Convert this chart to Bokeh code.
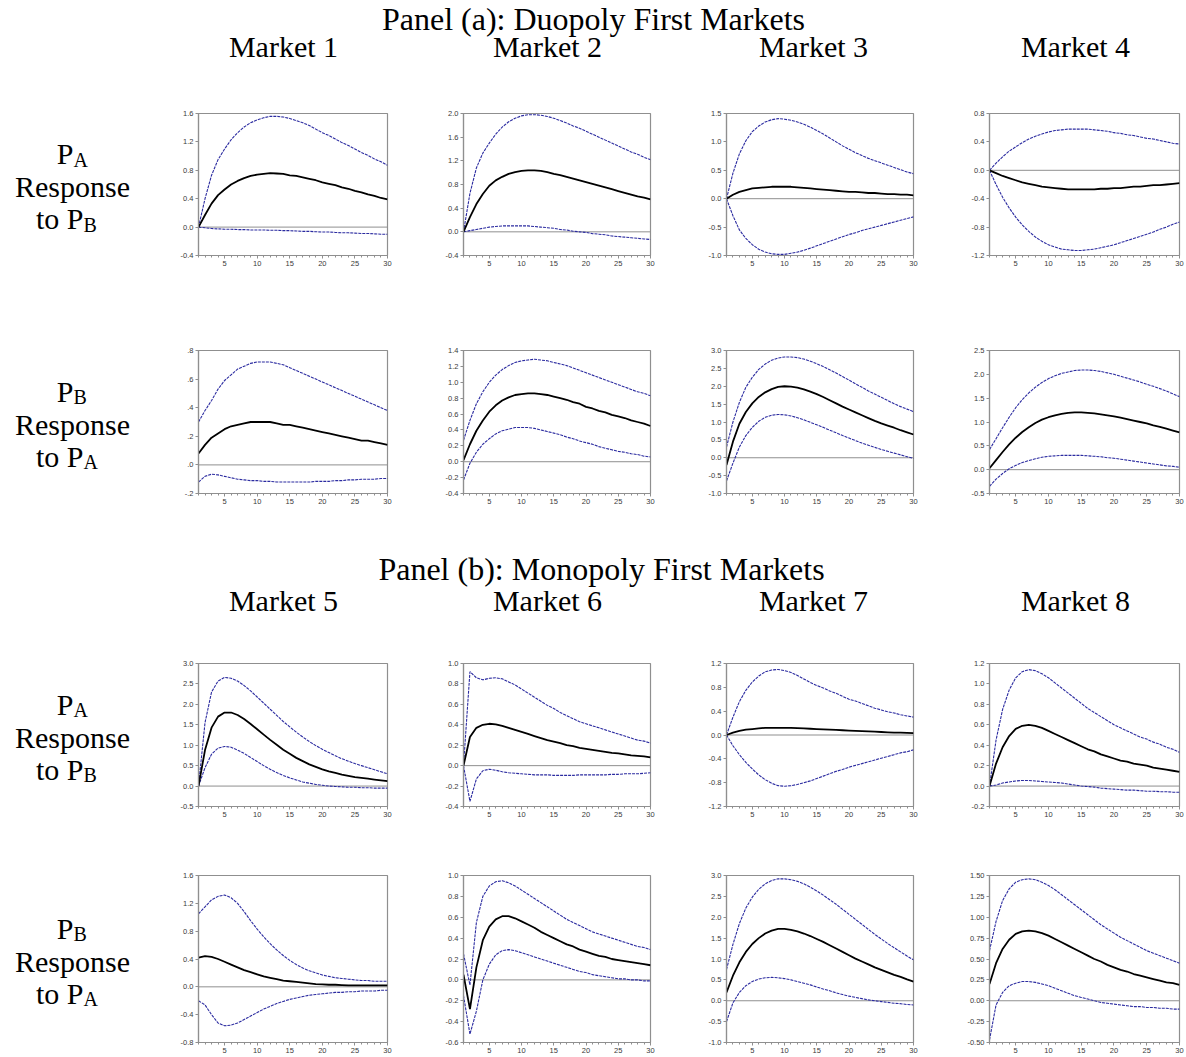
from bokeh.plotting import figure
from bokeh.layouts import column, row
from bokeh.models import Range1d, FixedTicker, CustomJSTickFormatter, Span, ColumnDataSource
from bokeh.core.properties import value
from bokeh.embed import file_html
from bokeh.resources import INLINE

# ---------------- data ----------------
periods = list(range(1, 31))
x_tick_labels = ["5", "10", "15", "20", "25", "30"]

panel_titles = ["Panel (a): Duopoly First Markets", "Panel (b): Monopoly First Markets"]
market_names_a = ["Market 1", "Market 2", "Market 3", "Market 4"]
market_names_b = ["Market 5", "Market 6", "Market 7", "Market 8"]

# Market 1
m1_pa_mid = [0, 0.17, 0.33, 0.45, 0.53, 0.60, 0.65, 0.69, 0.72, 0.74, 0.75, 0.76, 0.755, 0.75, 0.73, 0.72, 0.70, 0.68, 0.66, 0.63, 0.61, 0.59, 0.56, 0.54, 0.51, 0.49, 0.46, 0.44, 0.41, 0.39]
m1_pa_up = [0, 0.40, 0.73, 0.95, 1.10, 1.23, 1.33, 1.41, 1.47, 1.51, 1.54, 1.56, 1.56, 1.55, 1.53, 1.50, 1.47, 1.43, 1.38, 1.33, 1.29, 1.24, 1.19, 1.15, 1.10, 1.05, 1.01, 0.96, 0.92, 0.87]
m1_pa_lo = [0, -0.01, -0.02, -0.025, -0.03, -0.03, -0.035, -0.035, -0.04, -0.04, -0.04, -0.045, -0.045, -0.05, -0.05, -0.055, -0.06, -0.06, -0.065, -0.07, -0.07, -0.075, -0.08, -0.08, -0.085, -0.09, -0.09, -0.095, -0.10, -0.10]
m1_pa_yticks = ["-0.4", "0.0", "0.4", "0.8", "1.2", "1.6"]

m1_pb_mid = [0.08, 0.14, 0.19, 0.22, 0.25, 0.27, 0.28, 0.29, 0.30, 0.30, 0.30, 0.30, 0.29, 0.28, 0.28, 0.27, 0.26, 0.25, 0.24, 0.23, 0.22, 0.21, 0.20, 0.19, 0.18, 0.17, 0.17, 0.16, 0.15, 0.14]
m1_pb_up = [0.30, 0.38, 0.45, 0.53, 0.59, 0.63, 0.67, 0.69, 0.71, 0.72, 0.72, 0.72, 0.71, 0.70, 0.68, 0.66, 0.64, 0.62, 0.60, 0.58, 0.56, 0.54, 0.52, 0.50, 0.48, 0.46, 0.44, 0.42, 0.40, 0.38]
m1_pb_lo = [-0.12, -0.08, -0.065, -0.07, -0.08, -0.09, -0.10, -0.105, -0.11, -0.11, -0.115, -0.115, -0.12, -0.12, -0.12, -0.12, -0.12, -0.12, -0.115, -0.115, -0.115, -0.11, -0.11, -0.105, -0.105, -0.10, -0.10, -0.10, -0.095, -0.095]
m1_pb_yticks = ["-.2", ".0", ".2", ".4", ".6", ".8"]

# Market 2
m2_pa_mid = [0, 0.25, 0.47, 0.64, 0.78, 0.87, 0.93, 0.98, 1.01, 1.03, 1.04, 1.04, 1.03, 1.01, 0.98, 0.96, 0.93, 0.90, 0.87, 0.84, 0.81, 0.78, 0.75, 0.72, 0.69, 0.66, 0.63, 0.60, 0.58, 0.55]
m2_pa_up = [0, 0.65, 1.08, 1.33, 1.50, 1.65, 1.77, 1.86, 1.92, 1.96, 1.98, 1.98, 1.97, 1.95, 1.92, 1.88, 1.84, 1.79, 1.75, 1.70, 1.65, 1.60, 1.55, 1.50, 1.45, 1.40, 1.35, 1.31, 1.26, 1.22]
m2_pa_lo = [0, 0.02, 0.04, 0.06, 0.08, 0.09, 0.10, 0.10, 0.10, 0.10, 0.10, 0.09, 0.08, 0.07, 0.06, 0.04, 0.03, 0.01, 0.00, -0.01, -0.03, -0.04, -0.05, -0.07, -0.08, -0.09, -0.10, -0.11, -0.12, -0.13]
m2_pa_yticks = ["-0.4", "0.0", "0.4", "0.8", "1.2", "1.6", "2.0"]

m2_pb_mid = [0.02, 0.22, 0.39, 0.52, 0.63, 0.71, 0.77, 0.81, 0.84, 0.85, 0.86, 0.86, 0.85, 0.84, 0.82, 0.80, 0.78, 0.75, 0.73, 0.69, 0.67, 0.64, 0.62, 0.59, 0.57, 0.55, 0.52, 0.50, 0.48, 0.45]
m2_pb_up = [0.27, 0.52, 0.73, 0.88, 1.00, 1.09, 1.16, 1.21, 1.25, 1.27, 1.28, 1.29, 1.28, 1.27, 1.25, 1.23, 1.21, 1.18, 1.15, 1.12, 1.09, 1.06, 1.03, 1.00, 0.97, 0.94, 0.91, 0.88, 0.86, 0.83]
m2_pb_lo = [-0.23, -0.02, 0.12, 0.22, 0.29, 0.35, 0.39, 0.41, 0.43, 0.43, 0.43, 0.42, 0.40, 0.38, 0.36, 0.34, 0.31, 0.29, 0.26, 0.24, 0.22, 0.19, 0.17, 0.15, 0.13, 0.12, 0.10, 0.09, 0.07, 0.06]
m2_pb_yticks = ["-0.4", "-0.2", "0.0", "0.2", "0.4", "0.6", "0.8", "1.0", "1.2", "1.4"]

# Market 3
m3_pa_mid = [0, 0.07, 0.12, 0.15, 0.18, 0.19, 0.20, 0.21, 0.21, 0.21, 0.21, 0.20, 0.19, 0.18, 0.17, 0.16, 0.15, 0.14, 0.13, 0.12, 0.12, 0.11, 0.10, 0.10, 0.09, 0.08, 0.08, 0.07, 0.07, 0.06]
m3_pa_up = [0, 0.45, 0.79, 1.02, 1.18, 1.28, 1.35, 1.39, 1.41, 1.40, 1.38, 1.35, 1.31, 1.26, 1.20, 1.14, 1.07, 1.00, 0.93, 0.87, 0.81, 0.76, 0.71, 0.67, 0.63, 0.59, 0.55, 0.51, 0.47, 0.44]
m3_pa_lo = [0, -0.30, -0.55, -0.70, -0.81, -0.89, -0.94, -0.97, -0.98, -0.98, -0.96, -0.94, -0.91, -0.87, -0.83, -0.79, -0.75, -0.71, -0.67, -0.63, -0.60, -0.56, -0.53, -0.50, -0.47, -0.44, -0.41, -0.38, -0.35, -0.32]
m3_pa_yticks = ["-1.0", "-0.5", "0.0", "0.5", "1.0", "1.5"]

m3_pb_mid = [-0.20, 0.45, 0.95, 1.28, 1.52, 1.70, 1.83, 1.92, 1.98, 2.00, 1.99, 1.96, 1.91, 1.85, 1.78, 1.70, 1.61, 1.52, 1.43, 1.35, 1.27, 1.19, 1.11, 1.03, 0.96, 0.90, 0.84, 0.77, 0.71, 0.65]
m3_pb_up = [0.30, 1.00, 1.55, 1.97, 2.25, 2.47, 2.62, 2.73, 2.79, 2.82, 2.82, 2.80, 2.76, 2.70, 2.63, 2.55, 2.46, 2.37, 2.27, 2.17, 2.07, 1.97, 1.87, 1.78, 1.69, 1.60, 1.51, 1.43, 1.36, 1.29]
m3_pb_lo = [-0.65, -0.15, 0.30, 0.62, 0.85, 1.02, 1.13, 1.19, 1.21, 1.20, 1.17, 1.12, 1.06, 0.99, 0.92, 0.85, 0.77, 0.70, 0.62, 0.55, 0.48, 0.41, 0.35, 0.29, 0.23, 0.18, 0.13, 0.08, 0.03, -0.02]
m3_pb_yticks = ["-1.0", "-0.5", "0.0", "0.5", "1.0", "1.5", "2.0", "2.5", "3.0"]

# Market 4
m4_pa_mid = [0, -0.04, -0.08, -0.11, -0.14, -0.17, -0.19, -0.21, -0.23, -0.24, -0.25, -0.26, -0.27, -0.27, -0.27, -0.27, -0.27, -0.26, -0.26, -0.25, -0.25, -0.24, -0.23, -0.23, -0.22, -0.21, -0.21, -0.20, -0.19, -0.18]
m4_pa_up = [0, 0.10, 0.19, 0.27, 0.33, 0.39, 0.44, 0.48, 0.51, 0.54, 0.56, 0.57, 0.58, 0.58, 0.58, 0.58, 0.57, 0.56, 0.55, 0.53, 0.52, 0.50, 0.49, 0.47, 0.45, 0.44, 0.42, 0.40, 0.38, 0.37]
m4_pa_lo = [0, -0.20, -0.38, -0.53, -0.66, -0.77, -0.86, -0.94, -1.00, -1.05, -1.08, -1.11, -1.12, -1.13, -1.13, -1.12, -1.11, -1.09, -1.07, -1.05, -1.02, -0.99, -0.96, -0.93, -0.90, -0.87, -0.83, -0.80, -0.76, -0.73]
m4_pa_yticks = ["-1.2", "-0.8", "-0.4", "0.0", "0.4", "0.8"]

m4_pb_mid = [0.03, 0.20, 0.37, 0.53, 0.67, 0.79, 0.89, 0.98, 1.05, 1.10, 1.14, 1.17, 1.19, 1.20, 1.20, 1.19, 1.18, 1.16, 1.14, 1.12, 1.09, 1.06, 1.03, 1.00, 0.97, 0.93, 0.90, 0.86, 0.82, 0.78]
m4_pb_up = [0.42, 0.65, 0.88, 1.10, 1.30, 1.47, 1.61, 1.73, 1.83, 1.91, 1.97, 2.02, 2.05, 2.08, 2.09, 2.09, 2.08, 2.06, 2.03, 2.00, 1.96, 1.92, 1.88, 1.84, 1.79, 1.75, 1.70, 1.65, 1.59, 1.53]
m4_pb_lo = [-0.35, -0.20, -0.08, 0.02, 0.09, 0.15, 0.19, 0.23, 0.26, 0.28, 0.29, 0.30, 0.30, 0.30, 0.30, 0.29, 0.28, 0.27, 0.25, 0.24, 0.22, 0.20, 0.18, 0.16, 0.14, 0.12, 0.10, 0.08, 0.07, 0.05]
m4_pb_yticks = ["-0.5", "0.0", "0.5", "1.0", "1.5", "2.0", "2.5"]

# Market 5
m5_pa_mid = [0, 0.88, 1.43, 1.70, 1.80, 1.80, 1.74, 1.64, 1.52, 1.39, 1.26, 1.13, 1.01, 0.89, 0.79, 0.69, 0.61, 0.53, 0.47, 0.41, 0.36, 0.32, 0.28, 0.25, 0.22, 0.20, 0.18, 0.16, 0.14, 0.12]
m5_pa_up = [0, 1.55, 2.30, 2.57, 2.66, 2.64, 2.57, 2.46, 2.33, 2.18, 2.03, 1.88, 1.73, 1.58, 1.45, 1.32, 1.20, 1.09, 0.99, 0.90, 0.82, 0.74, 0.67, 0.61, 0.55, 0.50, 0.45, 0.40, 0.35, 0.30]
m5_pa_lo = [0, 0.45, 0.78, 0.93, 0.97, 0.95, 0.88, 0.80, 0.70, 0.60, 0.50, 0.41, 0.33, 0.26, 0.20, 0.15, 0.10, 0.07, 0.04, 0.02, 0.00, -0.01, -0.02, -0.03, -0.03, -0.04, -0.04, -0.05, -0.05, -0.05]
m5_pa_yticks = ["-0.5", "0.0", "0.5", "1.0", "1.5", "2.0", "2.5", "3.0"]

m5_pb_mid = [0.42, 0.44, 0.43, 0.40, 0.36, 0.32, 0.28, 0.24, 0.21, 0.18, 0.15, 0.13, 0.11, 0.09, 0.08, 0.07, 0.06, 0.05, 0.04, 0.035, 0.03, 0.03, 0.025, 0.02, 0.02, 0.02, 0.02, 0.02, 0.02, 0.02]
m5_pb_up = [1.05, 1.15, 1.25, 1.30, 1.32, 1.28, 1.20, 1.08, 0.95, 0.83, 0.72, 0.62, 0.53, 0.45, 0.38, 0.32, 0.27, 0.23, 0.20, 0.17, 0.15, 0.13, 0.12, 0.11, 0.10, 0.09, 0.09, 0.08, 0.08, 0.08]
m5_pb_lo = [-0.20, -0.26, -0.40, -0.52, -0.56, -0.55, -0.52, -0.47, -0.42, -0.37, -0.32, -0.28, -0.24, -0.21, -0.18, -0.16, -0.14, -0.12, -0.11, -0.10, -0.09, -0.08, -0.08, -0.07, -0.07, -0.06, -0.06, -0.06, -0.05, -0.05]
m5_pb_yticks = ["-0.8", "-0.4", "0.0", "0.4", "0.8", "1.2", "1.6"]

# Market 6
m6_pa_mid = [0, 0.28, 0.37, 0.40, 0.41, 0.405, 0.39, 0.37, 0.35, 0.33, 0.31, 0.29, 0.27, 0.25, 0.235, 0.22, 0.20, 0.19, 0.175, 0.165, 0.155, 0.145, 0.135, 0.125, 0.12, 0.11, 0.10, 0.095, 0.09, 0.08]
m6_pa_up = [0, 0.92, 0.86, 0.84, 0.855, 0.86, 0.85, 0.82, 0.79, 0.75, 0.71, 0.67, 0.63, 0.59, 0.56, 0.52, 0.49, 0.46, 0.43, 0.41, 0.39, 0.37, 0.35, 0.33, 0.31, 0.29, 0.27, 0.25, 0.24, 0.22]
m6_pa_lo = [0, -0.35, -0.13, -0.05, -0.035, -0.045, -0.06, -0.07, -0.075, -0.08, -0.085, -0.09, -0.09, -0.09, -0.095, -0.095, -0.095, -0.095, -0.09, -0.09, -0.09, -0.09, -0.09, -0.085, -0.085, -0.08, -0.08, -0.08, -0.075, -0.07]
m6_pa_yticks = ["-0.4", "-0.2", "0.0", "0.2", "0.4", "0.6", "0.8", "1.0"]

m6_pb_mid = [0.05, -0.28, 0.12, 0.38, 0.51, 0.58, 0.61, 0.61, 0.59, 0.56, 0.53, 0.50, 0.46, 0.43, 0.40, 0.37, 0.34, 0.32, 0.29, 0.27, 0.25, 0.23, 0.22, 0.20, 0.19, 0.18, 0.17, 0.16, 0.15, 0.14]
m6_pb_up = [0.25, -0.05, 0.55, 0.80, 0.90, 0.94, 0.95, 0.93, 0.90, 0.86, 0.82, 0.78, 0.74, 0.70, 0.66, 0.62, 0.58, 0.55, 0.52, 0.49, 0.46, 0.44, 0.42, 0.40, 0.38, 0.36, 0.34, 0.32, 0.31, 0.29]
m6_pb_lo = [-0.15, -0.52, -0.30, 0.00, 0.15, 0.24, 0.28, 0.29, 0.28, 0.26, 0.24, 0.22, 0.20, 0.18, 0.16, 0.14, 0.12, 0.10, 0.08, 0.07, 0.05, 0.04, 0.03, 0.02, 0.01, 0.01, 0.00, 0.00, -0.01, -0.01]
m6_pb_yticks = ["-0.6", "-0.4", "-0.2", "0.0", "0.2", "0.4", "0.6", "0.8", "1.0"]

# Market 7
m7_pa_mid = [0, 0.04, 0.07, 0.09, 0.10, 0.11, 0.12, 0.12, 0.12, 0.12, 0.12, 0.115, 0.11, 0.105, 0.10, 0.095, 0.09, 0.085, 0.08, 0.075, 0.07, 0.065, 0.06, 0.055, 0.05, 0.045, 0.04, 0.04, 0.035, 0.03]
m7_pa_up = [0, 0.30, 0.56, 0.75, 0.89, 0.99, 1.06, 1.09, 1.10, 1.08, 1.05, 1.00, 0.94, 0.88, 0.83, 0.79, 0.74, 0.70, 0.65, 0.60, 0.57, 0.53, 0.49, 0.45, 0.42, 0.39, 0.37, 0.34, 0.32, 0.30]
m7_pa_lo = [0, -0.18, -0.33, -0.46, -0.57, -0.67, -0.75, -0.81, -0.85, -0.86, -0.85, -0.83, -0.80, -0.77, -0.73, -0.69, -0.65, -0.61, -0.58, -0.54, -0.51, -0.48, -0.45, -0.42, -0.39, -0.36, -0.33, -0.30, -0.28, -0.25]
m7_pa_yticks = ["-1.2", "-0.8", "-0.4", "0.0", "0.4", "0.8", "1.2"]

m7_pb_mid = [0.20, 0.60, 0.92, 1.17, 1.36, 1.50, 1.61, 1.68, 1.72, 1.72, 1.70, 1.66, 1.61, 1.55, 1.48, 1.41, 1.33, 1.25, 1.17, 1.09, 1.01, 0.94, 0.87, 0.80, 0.74, 0.68, 0.62, 0.57, 0.51, 0.46]
m7_pb_up = [0.75, 1.35, 1.85, 2.22, 2.48, 2.67, 2.80, 2.88, 2.92, 2.92, 2.90, 2.86, 2.80, 2.72, 2.63, 2.53, 2.42, 2.31, 2.19, 2.07, 1.95, 1.83, 1.71, 1.59, 1.48, 1.37, 1.27, 1.17, 1.07, 0.98]
m7_pb_lo = [-0.50, -0.05, 0.20, 0.36, 0.46, 0.52, 0.55, 0.56, 0.55, 0.53, 0.50, 0.46, 0.42, 0.38, 0.33, 0.28, 0.24, 0.19, 0.15, 0.11, 0.08, 0.05, 0.02, 0.00, -0.02, -0.04, -0.06, -0.07, -0.09, -0.10]
m7_pb_yticks = ["-1.0", "-0.5", "0.0", "0.5", "1.0", "1.5", "2.0", "2.5", "3.0"]

# Market 8
m8_pa_mid = [0, 0.22, 0.38, 0.49, 0.56, 0.59, 0.60, 0.59, 0.57, 0.54, 0.51, 0.48, 0.45, 0.42, 0.39, 0.36, 0.34, 0.31, 0.29, 0.27, 0.25, 0.24, 0.22, 0.21, 0.20, 0.18, 0.17, 0.16, 0.15, 0.14]
m8_pa_up = [0, 0.45, 0.75, 0.94, 1.06, 1.12, 1.14, 1.13, 1.10, 1.06, 1.01, 0.96, 0.91, 0.86, 0.81, 0.76, 0.72, 0.68, 0.64, 0.60, 0.57, 0.54, 0.51, 0.48, 0.46, 0.43, 0.41, 0.38, 0.36, 0.33]
m8_pa_lo = [0, 0.01, 0.03, 0.04, 0.05, 0.055, 0.055, 0.05, 0.045, 0.04, 0.035, 0.03, 0.02, 0.01, 0.00, -0.005, -0.01, -0.02, -0.025, -0.03, -0.035, -0.04, -0.04, -0.045, -0.05, -0.05, -0.055, -0.055, -0.06, -0.06]
m8_pa_yticks = ["-0.2", "0.0", "0.2", "0.4", "0.6", "0.8", "1.0", "1.2"]

m8_pb_mid = [0.20, 0.45, 0.62, 0.73, 0.80, 0.83, 0.84, 0.83, 0.81, 0.78, 0.74, 0.70, 0.66, 0.62, 0.58, 0.54, 0.50, 0.47, 0.43, 0.40, 0.37, 0.35, 0.32, 0.30, 0.28, 0.26, 0.24, 0.22, 0.21, 0.19]
m8_pb_up = [0.60, 0.95, 1.20, 1.34, 1.42, 1.45, 1.46, 1.45, 1.42, 1.38, 1.33, 1.27, 1.21, 1.15, 1.09, 1.03, 0.97, 0.91, 0.86, 0.81, 0.76, 0.72, 0.68, 0.64, 0.60, 0.57, 0.54, 0.51, 0.48, 0.45]
m8_pb_lo = [-0.47, -0.05, 0.10, 0.18, 0.21, 0.23, 0.23, 0.22, 0.20, 0.18, 0.15, 0.12, 0.09, 0.06, 0.04, 0.02, 0.00, -0.02, -0.03, -0.04, -0.05, -0.06, -0.07, -0.07, -0.08, -0.08, -0.09, -0.09, -0.10, -0.10]
m8_pb_yticks = ["-0.50", "-0.25", "0.00", "0.25", "0.50", "0.75", "1.00", "1.25", "1.50"]

# ---------------- styling / layout ----------------
SERIF = "Liberation Serif"
SANS = "Liberation Sans"
GRAY = "#8f8f8f"
BLUE = "#2b2ba0"

LABEL_W = 160
COL_W = [260, 270, 260, 234]
COL_BL = [38, 43, 36, 39]
COL_BR = [33, 40, 37, 5]
ROW_H = [220, 230, 210, 217]
ROW_BT = [33, 50, 33, 35]
ROW_BB = [45, 37, 34, 15]
TOTAL_W = LABEL_W + sum(COL_W)
MARKET_X = [283, 547, 813, 1075]


def make_chart(mid, up, lo, yticks, w, h, bl, br, bt, bb):
    yvals = [float(s) for s in yticks]
    p = figure(width=w, height=h, x_range=Range1d(1, 30),
               y_range=Range1d(min(yvals), max(yvals)),
               output_backend="svg", toolbar_location=None, title=None,
               min_border_left=bl, min_border_right=br,
               min_border_top=bt, min_border_bottom=bb)
    p.xgrid.visible = False
    p.ygrid.visible = False
    p.outline_line_color = GRAY
    p.outline_line_width = 1.2
    p.background_fill_color = "white"
    p.border_fill_color = "white"

    p.add_layout(Span(location=0, dimension="width", line_color=GRAY,
                      line_width=1, level="underlay"))

    src = ColumnDataSource(dict(x=periods, mid=mid, up=up, lo=lo))
    p.line("x", "up", source=src, line_color=BLUE, line_width=1.1, line_dash="3 1")
    p.line("x", "lo", source=src, line_color=BLUE, line_width=1.1, line_dash="3 1")
    p.line("x", "mid", source=src, line_color="black", line_width=1.8)

    xt = [float(s) for s in x_tick_labels]
    p.xaxis.ticker = FixedTicker(ticks=xt, minor_ticks=periods)
    p.yaxis.ticker = FixedTicker(ticks=yvals, minor_ticks=[])
    p.yaxis.formatter = CustomJSTickFormatter(
        args=dict(vals=yvals, labels=yticks),
        code="""
        for (let i = 0; i < vals.length; i++) {
            if (Math.abs(vals[i] - tick) < 1e-6) { return labels[i]; }
        }
        return "";
        """)
    for ax in (p.xaxis[0], p.yaxis[0]):
        ax.axis_line_color = GRAY
        ax.axis_line_width = 1.2
        ax.major_tick_line_color = GRAY
        ax.minor_tick_line_color = GRAY
        ax.major_tick_in = 0
        ax.major_tick_out = 3
        ax.minor_tick_in = 0
        ax.minor_tick_out = 2
        ax.major_label_text_font = SANS
        ax.major_label_text_font_size = "7.5px"
        ax.major_label_text_color = "#3a3a3a"
        ax.major_label_standoff = 2
    return p


def text_canvas(w, h, bt=0, bb=0):
    fh = h - bt - bb
    p = figure(width=w, height=h, x_range=Range1d(0, w), y_range=Range1d(fh, 0),
               output_backend="svg", toolbar_location=None, title=None,
               min_border_left=0, min_border_right=0,
               min_border_top=bt, min_border_bottom=bb,
               x_axis_location=None, y_axis_location=None)
    p.xgrid.visible = False
    p.ygrid.visible = False
    p.outline_line_color = None
    p.background_fill_color = None
    p.border_fill_color = None
    return p


def add_texts(p, xs, ys, texts, size, align):
    src = ColumnDataSource(dict(x=xs, y=ys, t=texts))
    p.text(x="x", y="y", text="t", source=src, text_font=value(SERIF),
           text_font_size=size, text_align=align, text_baseline="alphabetic",
           text_color="black")


def header(title, title_x, title_y, names, names_y, h):
    p = text_canvas(TOTAL_W, h)
    add_texts(p, [title_x], [title_y], [title], "32px", "center")
    add_texts(p, MARKET_X, [names_y] * 4, names, "30px", "center")
    return p


def row_label(h, bt, bb, top_sub, bottom_sub):
    p = text_canvas(LABEL_W, h, bt, bb)
    c = (h - bt - bb) / 2.0
    add_texts(p, [73, 83], [c - 31, c + 34], ["P", "to P"], "30px", "right")
    add_texts(p, [73, 83], [c - 25, c + 40], [top_sub, bottom_sub], "20px", "left")
    add_texts(p, [72], [c + 2], ["Response"], "30px", "center")
    return p


rows_data = [
    [(m1_pa_mid, m1_pa_up, m1_pa_lo, m1_pa_yticks), (m2_pa_mid, m2_pa_up, m2_pa_lo, m2_pa_yticks),
     (m3_pa_mid, m3_pa_up, m3_pa_lo, m3_pa_yticks), (m4_pa_mid, m4_pa_up, m4_pa_lo, m4_pa_yticks)],
    [(m1_pb_mid, m1_pb_up, m1_pb_lo, m1_pb_yticks), (m2_pb_mid, m2_pb_up, m2_pb_lo, m2_pb_yticks),
     (m3_pb_mid, m3_pb_up, m3_pb_lo, m3_pb_yticks), (m4_pb_mid, m4_pb_up, m4_pb_lo, m4_pb_yticks)],
    [(m5_pa_mid, m5_pa_up, m5_pa_lo, m5_pa_yticks), (m6_pa_mid, m6_pa_up, m6_pa_lo, m6_pa_yticks),
     (m7_pa_mid, m7_pa_up, m7_pa_lo, m7_pa_yticks), (m8_pa_mid, m8_pa_up, m8_pa_lo, m8_pa_yticks)],
    [(m5_pb_mid, m5_pb_up, m5_pb_lo, m5_pb_yticks), (m6_pb_mid, m6_pb_up, m6_pb_lo, m6_pb_yticks),
     (m7_pb_mid, m7_pb_up, m7_pb_lo, m7_pb_yticks), (m8_pb_mid, m8_pb_up, m8_pb_lo, m8_pb_yticks)],
]
row_subs = [("A", "B"), ("B", "A"), ("A", "B"), ("B", "A")]

grid_rows = []
for r in range(4):
    h = ROW_H[r]
    bt, bb = ROW_BT[r], ROW_BB[r]
    children = [row_label(h, bt, bb, *row_subs[r])]
    for k in range(4):
        mid, up, lo, yt = rows_data[r][k]
        children.append(make_chart(mid, up, lo, yt, COL_W[k], h,
                                   COL_BL[k], COL_BR[k], bt, bb))
    grid_rows.append(row(*children, spacing=0))

head_a = header(panel_titles[0], 593, 18, market_names_a, 46, 80)
head_b = header(panel_titles[1], 601, 38, market_names_b, 70, 100)

layout = column(head_a, grid_rows[0], grid_rows[1], head_b, grid_rows[2], grid_rows[3], spacing=0)

open("out.html", "w").write(file_html(layout, INLINE))
